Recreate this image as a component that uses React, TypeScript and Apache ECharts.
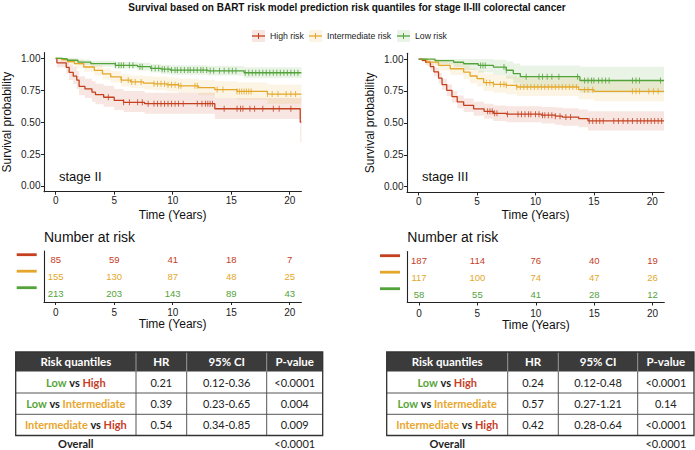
import React, { useEffect, useRef } from 'react';
import * as echarts from 'echarts';

const FONT = '"Liberation Sans", Arial, Helvetica, sans-serif';
const TFONT = 'Lato, "Open Sans", sans-serif';

const GROUP_NAMES = ['High risk', 'Intermediate risk', 'Low risk'];
const LINE_COLORS = ['#C5401F', '#E4A72B', '#52A33A'];
const BAND_COLORS = ['rgba(197,64,31,0.13)', 'rgba(228,167,43,0.13)', 'rgba(82,163,58,0.13)'];
const TEXT_RED = '#C6402A';
const TEXT_ORANGE = '#E9A62C';
const TEXT_GREEN = '#58A53A';

const X_TICKS = [0, 5, 10, 15, 20];
const Y_TICKS = [0, 0.25, 0.5, 0.75, 1];
const RISK_TIMES = [0, 5, 10, 15, 20];
const PANEL_LABELS = ['stage II', 'stage III'];

// ---------- Stage II ----------
const s2HighTime = [0, 0.1, 0.9, 1.15, 1.5, 1.8, 2.0, 2.5, 3.1, 3.4, 4.1, 5.0, 5.8, 7.6, 13.6, 20.9, 21];
const s2HighSurv = [1, 0.965, 0.93, 0.89, 0.86, 0.83, 0.78, 0.76, 0.735, 0.715, 0.695, 0.67, 0.655, 0.645, 0.605, 0.5, 0.5];
const s2HighLower = [1, 0.93, 0.88, 0.83, 0.8, 0.76, 0.71, 0.69, 0.66, 0.64, 0.62, 0.595, 0.58, 0.565, 0.525, 0.34, 0.34];
const s2HighUpper = [1, 1, 0.98, 0.95, 0.93, 0.9, 0.86, 0.84, 0.82, 0.8, 0.785, 0.76, 0.745, 0.73, 0.69, 0.7, 0.7];
const s2HighCensor = [4.5, 5.8, 6.3, 7.0, 7.4, 7.9, 8.4, 8.7, 9.0, 9.3, 9.6, 9.9, 10.2, 10.5, 10.9, 12.1, 12.5, 12.8, 13.0, 13.2, 13.4, 14.4, 15.5, 15.8, 16.0, 16.6, 17.0, 17.7, 18.6, 19.1, 20.1];

const s2IntTime = [0, 0.5, 1.0, 1.6, 2.4, 3.3, 4.0, 4.7, 5.6, 6.4, 7.5, 8.4, 9.5, 10.5, 12.2, 13.6, 15.5, 18.1, 21];
const s2IntSurv = [1, 0.99, 0.975, 0.958, 0.932, 0.906, 0.879, 0.854, 0.83, 0.815, 0.806, 0.8, 0.793, 0.785, 0.77, 0.755, 0.741, 0.72, 0.72];
const s2IntLower = [1, 0.975, 0.95, 0.925, 0.895, 0.865, 0.835, 0.81, 0.78, 0.765, 0.755, 0.75, 0.74, 0.73, 0.71, 0.69, 0.675, 0.645, 0.645];
const s2IntUpper = [1, 1, 1, 0.99, 0.97, 0.945, 0.92, 0.9, 0.875, 0.865, 0.86, 0.855, 0.85, 0.84, 0.83, 0.82, 0.81, 0.795, 0.795];
const s2IntCensor = [5.6, 6.2, 6.5, 6.8, 7.3, 8.4, 8.7, 9.0, 9.3, 9.6, 9.9, 10.2, 10.5, 10.7, 11.9, 12.1, 13.8, 14.3, 15.5, 15.7, 15.9, 16.1, 16.3, 16.5, 16.7, 18.1, 18.5, 19.0, 19.7, 20.1, 20.5];

const s2LowTime = [0, 0.5, 1.0, 1.9, 3.0, 5.1, 7.0, 8.1, 9.0, 9.8, 13.0, 16.1, 21];
const s2LowSurv = [1, 0.995, 0.985, 0.971, 0.958, 0.945, 0.935, 0.922, 0.915, 0.908, 0.902, 0.887, 0.887];
const s2LowLower = [1, 0.985, 0.968, 0.95, 0.935, 0.92, 0.905, 0.89, 0.88, 0.872, 0.865, 0.845, 0.845];
const s2LowUpper = [1, 1, 1, 0.99, 0.982, 0.972, 0.965, 0.955, 0.95, 0.945, 0.94, 0.93, 0.93];
const s2LowCensor = [5.1, 5.4, 5.6, 5.8, 6.3, 6.6, 7.2, 7.4, 8.2, 8.5, 8.8, 9.1, 9.3, 9.6, 9.9, 10.2, 10.4, 10.7, 11.0, 11.3, 11.5, 11.8, 12.1, 12.4, 12.6, 12.9, 13.2, 13.5, 14.0, 14.4, 14.8, 15.1, 15.4, 16.2, 16.5, 16.8, 17.1, 17.4, 17.7, 18.0, 18.3, 18.6, 18.9, 19.2, 19.5, 19.8, 20.1, 20.4, 20.7];

// ---------- Stage III ----------
const s3HighTime = [0, 0.3, 0.6, 1.0, 1.3, 1.7, 2.0, 2.4, 2.85, 3.3, 3.85, 4.7, 5.6, 6.4, 7.5, 10.5, 11.7, 12.3, 13.7, 14.5, 21];
const s3HighSurv = [1, 0.99, 0.975, 0.94, 0.9, 0.85, 0.8, 0.755, 0.705, 0.665, 0.637, 0.61, 0.59, 0.575, 0.568, 0.56, 0.552, 0.545, 0.533, 0.515, 0.515];
const s3HighLower = [1, 0.975, 0.955, 0.91, 0.865, 0.81, 0.76, 0.71, 0.66, 0.615, 0.585, 0.555, 0.533, 0.515, 0.505, 0.495, 0.485, 0.478, 0.465, 0.44, 0.44];
const s3HighUpper = [1, 1, 0.995, 0.97, 0.935, 0.89, 0.845, 0.8, 0.75, 0.715, 0.69, 0.665, 0.65, 0.635, 0.63, 0.625, 0.62, 0.615, 0.605, 0.59, 0.59];
const s3HighCensor = [5.9, 6.1, 6.3, 6.5, 6.7, 7.6, 8.5, 8.8, 9.1, 9.4, 9.6, 10.0, 10.3, 10.6, 10.8, 11.1, 11.4, 11.7, 12.1, 12.6, 13.0, 14.6, 14.9, 15.2, 15.5, 15.8, 16.7, 17.1, 17.5, 17.9, 18.3, 18.7, 19.0, 19.3, 19.6, 19.9, 20.2, 20.5, 20.8];

const s3IntTime = [0, 0.7, 1.7, 2.7, 3.85, 4.4, 5.0, 5.56, 6.4, 7.5, 8.4, 13.7, 15.0, 21];
const s3IntSurv = [1, 0.976, 0.95, 0.924, 0.898, 0.867, 0.846, 0.815, 0.802, 0.794, 0.781, 0.76, 0.747, 0.747];
const s3IntLower = [1, 0.945, 0.91, 0.875, 0.845, 0.81, 0.785, 0.75, 0.735, 0.725, 0.71, 0.685, 0.67, 0.67];
const s3IntUpper = [1, 1, 0.99, 0.97, 0.95, 0.925, 0.91, 0.885, 0.875, 0.87, 0.86, 0.845, 0.835, 0.835];
const s3IntCensor = [5.8, 6.1, 6.4, 7.0, 7.3, 7.5, 8.4, 8.7, 9.0, 9.3, 9.6, 9.9, 10.2, 10.5, 10.8, 11.1, 11.4, 11.7, 12.0, 12.3, 12.6, 12.9, 13.2, 13.5, 14.2, 14.5, 14.9, 18.3, 18.6, 18.9, 19.7, 20.1, 20.5];

const s3LowTime = [0, 1.4, 3.0, 3.85, 5.1, 6.4, 7.5, 8.1, 8.7, 13.8, 21];
const s3LowSurv = [1, 0.987, 0.975, 0.963, 0.95, 0.937, 0.912, 0.886, 0.862, 0.832, 0.832];
const s3LowLower = [1, 0.96, 0.935, 0.915, 0.895, 0.875, 0.845, 0.81, 0.78, 0.735, 0.735];
const s3LowUpper = [1, 1, 1, 1, 1, 0.995, 0.98, 0.965, 0.95, 0.94, 0.94];
const s3LowCensor = [5.3, 5.5, 5.7, 7.3, 7.5, 9.2, 10.3, 10.6, 11.0, 11.4, 12.0, 13.6, 14.2, 14.5, 14.8, 15.0, 15.4, 15.7, 16.0, 16.3, 18.3, 18.6, 18.9, 20.7];

// ---------- Number at risk ----------
const s2HighRisk = [85, 59, 41, 18, 7];
const s2IntRisk = [155, 130, 87, 48, 25];
const s2LowRisk = [213, 203, 143, 89, 43];
const s3HighRisk = [187, 114, 76, 40, 19];
const s3IntRisk = [117, 100, 74, 47, 26];
const s3LowRisk = [58, 55, 41, 28, 12];

// ---------- Hazard ratio tables ----------
const TABLE_HEADERS = ['Risk quantiles', 'HR', '95% CI', 'P-value'];
const COMPARISONS = ['{g|Low} {k|vs} {r|High}', '{g|Low} {k|vs} {o|Intermediate}', '{o|Intermediate} {k|vs} {r|High}'];
const s2HR = ['0.21', '0.39', '0.54'];
const s2CI = ['0.12-0.36', '0.23-0.65', '0.34-0.85'];
const s2P = ['<0.0001', '0.004', '0.009'];
const s2Overall = '<0.0001';
const s3HR = ['0.24', '0.57', '0.42'];
const s3CI = ['0.12-0.48', '0.27-1.21', '0.28-0.64'];
const s3P = ['<0.0001', '0.14', '<0.0001'];
const s3Overall = '<0.0001';

type Curve = { time: number[]; surv: number[]; lower: number[]; upper: number[]; censor: number[] };

const panels: Curve[][] = [
  [
    { time: s2HighTime, surv: s2HighSurv, lower: s2HighLower, upper: s2HighUpper, censor: s2HighCensor },
    { time: s2IntTime, surv: s2IntSurv, lower: s2IntLower, upper: s2IntUpper, censor: s2IntCensor },
    { time: s2LowTime, surv: s2LowSurv, lower: s2LowLower, upper: s2LowUpper, censor: s2LowCensor },
  ],
  [
    { time: s3HighTime, surv: s3HighSurv, lower: s3HighLower, upper: s3HighUpper, censor: s3HighCensor },
    { time: s3IntTime, surv: s3IntSurv, lower: s3IntLower, upper: s3IntUpper, censor: s3IntCensor },
    { time: s3LowTime, surv: s3LowSurv, lower: s3LowLower, upper: s3LowUpper, censor: s3LowCensor },
  ],
];
const riskPanels = [
  [s2HighRisk, s2IntRisk, s2LowRisk],
  [s3HighRisk, s3IntRisk, s3LowRisk],
];
const tablePanels = [
  { hr: s2HR, ci: s2CI, p: s2P, overall: s2Overall },
  { hr: s3HR, ci: s3CI, p: s3P, overall: s3Overall },
];

function survAt(t: number[], s: number[], x: number) {
  let v = s[0];
  for (let i = 0; i < t.length; i++) if (t[i] <= x) v = s[i];
  return v;
}

// layout
const KM_GRIDS = [
  { left: 44, top: 52.6, width: 257.4, height: 139.1 },
  { left: 407, top: 53.3, width: 257, height: 139.1 },
];
const RISK_GRIDS = [
  { left: 44, top: 251, width: 257.4, height: 51 },
  { left: 407.3, top: 251.5, width: 257, height: 51 },
];
const TABLE_COLS = [
  [15.7, 136, 186.7, 266.7, 322.7],
  [386.7, 507.7, 558.3, 637.7, 694],
];
const TABLE_ROWS = [352, 371.5, 393, 414.3, 435.5];
const OVERALL_Y = 443.5;

export default function App() {
  const ref = useRef<HTMLDivElement>(null);
  useEffect(() => {
    if (!ref.current) return;
    const chart = echarts.init(ref.current, undefined, { renderer: 'svg' });

    const axisLine = { show: true, onZero: false, lineStyle: { color: '#222', width: 1.1 } };
    const axisTick = { show: true, length: 3, lineStyle: { color: '#222', width: 1 } };

    const grids: any[] = [];
    const xAxes: any[] = [];
    const yAxes: any[] = [];
    const series: any[] = [];

    [0, 1].forEach((p) => {
      grids.push({ ...KM_GRIDS[p], containLabel: false });
      xAxes.push({
        type: 'value', gridIndex: p, min: -1, max: 21,
        axisLine, axisTick: { ...axisTick, customValues: X_TICKS },
        axisLabel: { customValues: X_TICKS, color: '#222', fontSize: 10, fontFamily: FONT, margin: 4 },
        splitLine: { show: false },
        name: 'Time (Years)', nameLocation: 'middle', nameGap: 17,
        nameTextStyle: { fontSize: 12, fontFamily: FONT, color: '#111' },
      });
      yAxes.push({
        type: 'value', gridIndex: p, min: -0.045, max: 1.045,
        axisLine, axisTick: { ...axisTick, customValues: Y_TICKS },
        axisLabel: { customValues: Y_TICKS, color: '#222', fontSize: 10, fontFamily: FONT, margin: 3.5, formatter: (v: number) => v.toFixed(2) },
        splitLine: { show: false },
        name: 'Survival probability', nameLocation: 'middle', nameGap: 31,
        nameTextStyle: { fontSize: 12, fontFamily: FONT, color: '#111' },
      });
    });
    [0, 1].forEach((p) => {
      grids.push({ ...RISK_GRIDS[p], containLabel: false });
      xAxes.push({
        type: 'value', gridIndex: 2 + p, min: -1, max: 21,
        axisLine, axisTick: { ...axisTick, customValues: X_TICKS },
        axisLabel: { customValues: X_TICKS, color: '#222', fontSize: 10, fontFamily: FONT, margin: 5.5 },
        splitLine: { show: false },
        name: 'Time (Years)', nameLocation: 'middle', nameGap: 16,
        nameTextStyle: { fontSize: 12, fontFamily: FONT, color: '#111' },
      });
      yAxes.push({
        type: 'value', gridIndex: 2 + p, min: 0, max: 3,
        axisLine, axisTick: { show: false }, axisLabel: { show: false }, splitLine: { show: false },
      });
    });

    panels.forEach((curves, p) => {
      curves.forEach((c, g) => {
        series.push({
          type: 'custom', xAxisIndex: p, yAxisIndex: p, silent: true, z: 1,
          data: [[c.time[0], c.surv[0]]],
          renderItem: (_params: any, api: any) => {
            const pts: number[][] = [];
            const n = c.time.length;
            for (let i = 0; i < n; i++) {
              const x1 = i + 1 < n ? c.time[i + 1] : c.time[i];
              pts.push(api.coord([c.time[i], c.upper[i]]), api.coord([x1, c.upper[i]]));
            }
            for (let i = n - 1; i >= 0; i--) {
              const x1 = i + 1 < n ? c.time[i + 1] : c.time[i];
              pts.push(api.coord([x1, c.lower[i]]), api.coord([c.time[i], c.lower[i]]));
            }
            return { type: 'polygon', shape: { points: pts }, style: { fill: BAND_COLORS[g] } };
          },
        });
      });
      curves.forEach((c, g) => {
        series.push({
          name: GROUP_NAMES[g], type: 'line', xAxisIndex: p, yAxisIndex: p, step: 'end', z: 3,
          symbol: 'none', silent: true,
          data: c.time.map((t, i) => [t, c.surv[i]]),
          lineStyle: { color: LINE_COLORS[g], width: 1.3 },
        });
        series.push({
          type: 'scatter', xAxisIndex: p, yAxisIndex: p, z: 4, silent: true,
          symbol: 'rect', symbolSize: [1, 6],
          itemStyle: { color: LINE_COLORS[g] },
          data: c.censor.map((t) => [t, survAt(c.time, c.surv, t)]),
        });
      });
    });

    riskPanels.forEach((rows, p) => {
      rows.forEach((vals, g) => {
        series.push({
          type: 'custom', xAxisIndex: 2 + p, yAxisIndex: 2 + p, silent: true, z: 5, clip: false,
          data: RISK_TIMES.map((t, i) => [t, 2.5 - g, vals[i]]),
          renderItem: (_params: any, api: any) => {
            const pt = api.coord([api.value(0), api.value(1)]);
            return {
              type: 'text', x: pt[0], y: pt[1],
              style: { text: String(api.value(2)), fill: LINE_COLORS[g], font: `9.5px ${FONT}`, textAlign: 'center', textVerticalAlign: 'middle' },
            };
          },
        });
      });
    });

    const graphic: any[] = [];
    graphic.push({
      type: 'text', x: 347, y: 7,
      style: { text: 'Survival based on BART risk model prediction risk quantiles for stage II-III colorectal cancer', font: `bold 10px ${FONT}`, fill: '#111', textAlign: 'center', textVerticalAlign: 'middle' },
    });
    const LEG_X = [252, 309, 397];
    GROUP_NAMES.forEach((name, g) => {
      const x = LEG_X[g];
      graphic.push({ type: 'rect', shape: { x, y: 30, width: 13, height: 12 }, style: { fill: BAND_COLORS[g] } });
      graphic.push({ type: 'line', shape: { x1: x, y1: 36, x2: x + 13, y2: 36 }, style: { stroke: LINE_COLORS[g], lineWidth: 1.3 } });
      graphic.push({ type: 'line', shape: { x1: x + 6.5, y1: 33, x2: x + 6.5, y2: 39 }, style: { stroke: LINE_COLORS[g], lineWidth: 1 } });
      graphic.push({ type: 'text', x: x + 18, y: 36, style: { text: name, font: `8.7px ${FONT}`, fill: '#222', textVerticalAlign: 'middle' } });
    });
    [0, 1].forEach((p) => {
      graphic.push({ type: 'text', x: KM_GRIDS[p].left + 15, y: 176, style: { text: PANEL_LABELS[p], font: `13px ${FONT}`, fill: '#111', textVerticalAlign: 'middle' } });
      graphic.push({ type: 'text', x: RISK_GRIDS[p].left, y: 237, style: { text: 'Number at risk', font: `14px ${FONT}`, fill: '#111', textVerticalAlign: 'middle' } });
      const bx = p === 0 ? 16.7 : 380;
      [0, 1, 2].forEach((g) => {
        graphic.push({ type: 'rect', shape: { x: bx, y: 253.3 + g * 16.5 + p, width: 20, height: 2.8 }, style: { fill: LINE_COLORS[g] } });
      });
    });
    const rich = {
      g: { fill: TEXT_GREEN, font: `bold 11px ${TFONT}` },
      r: { fill: TEXT_RED, font: `bold 11px ${TFONT}` },
      o: { fill: TEXT_ORANGE, font: `bold 11px ${TFONT}` },
      k: { fill: '#222', font: `bold 11px ${TFONT}` },
    };
    tablePanels.forEach((tb, p) => {
      const cols = TABLE_COLS[p];
      const rows = TABLE_ROWS;
      const L = cols[0], R = cols[4];
      graphic.push({ type: 'rect', shape: { x: L, y: rows[0], width: R - L, height: rows[1] - rows[0] }, style: { fill: '#3b3b3b' } });
      for (let c = 1; c < 4; c++) {
        graphic.push({ type: 'line', shape: { x1: cols[c], y1: rows[0], x2: cols[c], y2: rows[1] }, style: { stroke: '#9a9a9a', lineWidth: 1 } });
        graphic.push({ type: 'line', shape: { x1: cols[c], y1: rows[1], x2: cols[c], y2: rows[4] }, style: { stroke: '#555', lineWidth: 1 } });
      }
      for (let r = 2; r < 4; r++) {
        graphic.push({ type: 'line', shape: { x1: L, y1: rows[r], x2: R, y2: rows[r] }, style: { stroke: '#555', lineWidth: 1 } });
      }
      graphic.push({ type: 'rect', shape: { x: L, y: rows[0], width: R - L, height: rows[4] - rows[0] }, style: { fill: 'none', stroke: '#333', lineWidth: 1.3 } });
      const cx = [0, 1, 2, 3].map((c) => (cols[c] + cols[c + 1]) / 2);
      TABLE_HEADERS.forEach((h, c) => {
        graphic.push({ type: 'text', x: cx[c], y: (rows[0] + rows[1]) / 2, style: { text: h, font: `bold 11.5px ${TFONT}`, fill: '#fff', textAlign: 'center', textVerticalAlign: 'middle' } });
      });
      for (let r = 0; r < 3; r++) {
        const cy = (rows[r + 1] + rows[r + 2]) / 2;
        graphic.push({ type: 'text', x: cx[0], y: cy, style: { text: COMPARISONS[r], rich, font: `bold 11px ${TFONT}`, textAlign: 'center', textVerticalAlign: 'middle' } });
        [tb.hr[r], tb.ci[r], tb.p[r]].forEach((v, c) => {
          graphic.push({ type: 'text', x: cx[c + 1], y: cy, style: { text: v, font: `11px ${TFONT}`, fill: '#222', textAlign: 'center', textVerticalAlign: 'middle' } });
        });
      }
      graphic.push({ type: 'text', x: cx[0], y: OVERALL_Y, style: { text: 'Overall', font: `bold 11px ${TFONT}`, fill: '#222', textAlign: 'center', textVerticalAlign: 'middle' } });
      graphic.push({ type: 'text', x: cx[3], y: OVERALL_Y, style: { text: tb.overall, font: `11px ${TFONT}`, fill: '#222', textAlign: 'center', textVerticalAlign: 'middle' } });
    });

    chart.setOption({
      animation: false,
      backgroundColor: '#fff',
      grid: grids,
      xAxis: xAxes,
      yAxis: yAxes,
      series,
      graphic,
    });
    return () => chart.dispose();
  }, []);
  return <div ref={ref} style={{ position: 'fixed', left: 0, top: 0, width: 695, height: 450 }} />;
}
